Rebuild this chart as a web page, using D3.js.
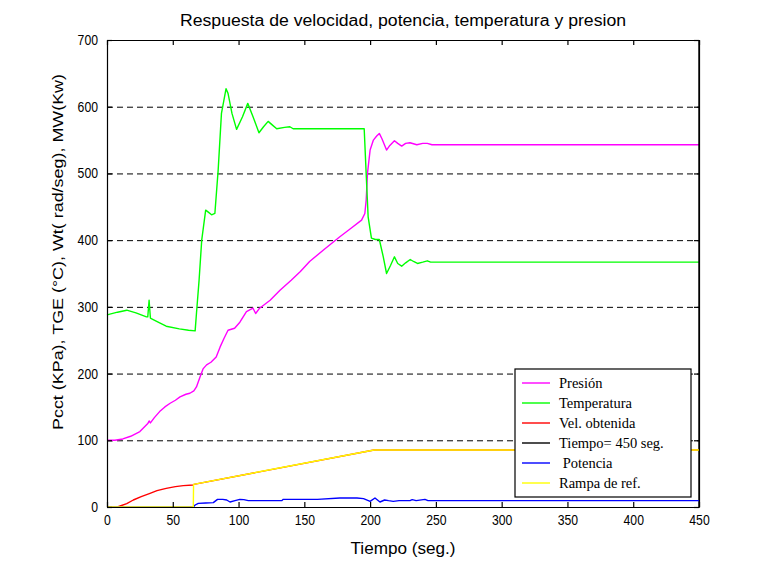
<!DOCTYPE html>
<html>
<head>
<meta charset="utf-8">
<script src="https://cdn.jsdelivr.net/npm/d3@7"></script>
<style>
  html, body { margin: 0; padding: 0; background: #fff; }
  svg { display: block; }
</style>
</head>
<body>
<svg id="chart" width="764" height="568"></svg>
<script>
// Time axis (s) and samples for each trace
const xTicks = [0, 50, 100, 150, 200, 250, 300, 350, 400, 450];
const yTicks = [0, 100, 200, 300, 400, 500, 600, 700];
const gridLevels = [100, 200, 300, 400, 500, 600];

const tPresion = [0, 6, 12, 18, 25, 28, 31, 32, 33, 36, 40, 44, 48, 52, 55.5, 60, 63, 66, 68, 70.7, 73, 75.7, 79, 83, 86, 89, 92, 97, 101, 106, 111, 113, 116, 124, 131.5, 140, 147, 154, 165, 177, 185, 193.5, 196, 197, 198, 200, 202.5, 205, 207, 209, 212.5, 215, 218.5, 221, 224, 227, 230.3, 235.5, 240, 243.5, 247, 450];
const presion  = [100, 100, 102, 106, 113, 119, 125, 129, 126, 134, 143, 150, 155.5, 160, 165, 169, 170.5, 174, 180, 195, 207, 213, 217, 225, 240, 253, 265, 268, 277, 293, 298, 290, 298, 310, 325, 340, 353, 368, 386, 405, 417, 430, 440, 460, 500, 535, 550, 556, 560, 552, 535, 542, 549, 545, 541, 545, 546, 543, 545, 545, 543, 543];

const tTemperatura = [0, 8, 15, 22, 30, 31, 32, 33, 34, 40, 45, 55, 62, 67, 68, 70, 72, 75, 77, 79.5, 82, 84.5, 87, 90.5, 92, 95, 98.5, 103, 107, 111, 115.5, 119, 122.5, 126, 129, 135, 139, 141.5, 150, 170, 195.5, 197, 198.5, 201, 204, 207, 210, 212.5, 215.5, 218.5, 221, 224, 227, 230.5, 233, 236, 240, 243.5, 246, 450];
const temperatura  = [288, 292, 295, 291, 285, 285, 310, 283, 282, 276, 271, 267, 265, 264, 290, 340, 400, 445, 442, 438, 440, 505, 590, 627, 620, 590, 566, 585, 605, 585, 561, 570, 578, 572, 567, 569, 570, 567, 567, 567, 567, 500, 435, 403, 401, 401, 375, 350, 362, 375, 365, 361, 366, 371, 368, 365, 367, 369, 367, 367];

const tVelocidad = [0, 8, 10, 15, 20, 26, 32.7, 38, 45, 52, 58, 65.6, 66, 203, 450];
const velocidad  = [0, 0, 1.5, 5, 10.5, 15.5, 20.5, 24.5, 28, 30.5, 32, 33, 34, 85.5, 85.5];

const tTiempo = [450, 450];
const tiempo  = [0, 700];

const tPotencia = [0, 65.6, 67, 69.4, 75, 80.8, 84, 88, 91, 93.5, 97.3, 101, 104, 107.4, 120, 132.8, 134, 160, 177, 190, 195, 200, 203.7, 207.5, 211, 214, 217.6, 222, 230.3, 232, 235, 241.7, 244, 450];
const potencia  = [0, 0, 3, 5.5, 6, 6.5, 11.5, 11.5, 10.5, 7.5, 9.5, 11.5, 11, 9.5, 9.5, 9.5, 11.5, 11.5, 13.5, 13.5, 12.5, 8.5, 13.5, 7.5, 10.5, 9.5, 8.5, 9.5, 9.5, 11, 9.5, 11.5, 9.5, 9.5];

const tRampa = [0, 65.6, 65.8, 203, 450];
const rampa  = [0, 0, 34, 85.5, 85.5];

const seriesNames = ["Presión", "Temperatura", "Vel. obtenida", "Tiempo= 450 seg.", " Potencia", "Rampa de ref."];
const seriesColors = ["#ff00ff", "#00ff00", "#ff0000", "#000000", "#0000ff", "#ffff00"];

const titleText = "Respuesta de velocidad, potencia, temperatura y presion";
const xLabel = "Tiempo (seg.)";
const yLabel = "Pcct (KPa), TGE (°C), Wt( rad/seg), MW(Kw)";

// Plot area bounds
const plotLeft = 107, plotRight = 699, plotTop = 40, plotBottom = 507;
const svg = d3.select("#chart");
svg.append("rect").attr("width", 764).attr("height", 568).attr("fill", "#fff");

const x = d3.scaleLinear().domain([0, 450]).range([plotLeft, plotRight]);
const y = d3.scaleLinear().domain([0, 700]).range([plotBottom, plotTop]);

const font = "Arial, 'Liberation Sans', sans-serif";

// Dashed horizontal grid
svg.append("g").selectAll("line").data(gridLevels).join("line")
  .attr("x1", plotLeft).attr("x2", plotRight)
  .attr("y1", d => y(d) + 0.5).attr("y2", d => y(d) + 0.5)
  .attr("stroke", "#000").attr("stroke-width", 1)
  .attr("stroke-dasharray", "6,4");

// Curves
const line = d3.line().x(d => x(d[0])).y(d => y(d[1]));
const traces = [
  [tPresion, presion],
  [tTemperatura, temperatura],
  [tVelocidad, velocidad],
  [tTiempo, tiempo],
  [tPotencia, potencia],
  [tRampa, rampa]
];
traces.forEach(([ts, vs], i) => {
  const pts = ts.map((t, k) => [t, vs[k]]);
  svg.append("path").datum(pts)
    .attr("d", line)
    .attr("fill", "none")
    .attr("stroke", seriesColors[i])
    .attr("stroke-width", 1.4)
    .attr("stroke-linejoin", "round");
});

// Axes box with inward ticks on all four sides
const axisB = d3.axisBottom(x).tickValues(xTicks).tickSizeInner(-5).tickSizeOuter(0).tickPadding(8);
const axisT = d3.axisTop(x).tickValues(xTicks).tickSizeInner(-5).tickSizeOuter(0).tickFormat("");
const axisL = d3.axisLeft(y).tickValues(yTicks).tickSizeInner(-5).tickSizeOuter(0).tickPadding(9);
const axisR = d3.axisRight(y).tickValues(yTicks).tickSizeInner(-5).tickSizeOuter(0).tickFormat("");

function styleAxis(g) {
  g.select(".domain").attr("stroke", "#000").attr("stroke-width", 1.2);
  g.selectAll(".tick line").attr("stroke", "#000").attr("stroke-width", 1.2);
  g.selectAll(".tick text").attr("fill", "#000").attr("font-family", font).attr("font-size", 14)
    .attr("textLength", d => String(d).length * 6.8).attr("lengthAdjust", "spacingAndGlyphs");
}
svg.append("g").attr("transform", `translate(0,${plotBottom})`).call(axisB).call(styleAxis);
svg.append("g").attr("transform", `translate(0,${plotTop})`).call(axisT).call(styleAxis);
svg.append("g").attr("transform", `translate(${plotLeft},0)`).call(axisL).call(styleAxis);
svg.append("g").attr("transform", `translate(${plotRight},0)`).call(axisR).call(styleAxis);

// Title and axis labels
svg.append("text").attr("x", 403).attr("y", 26)
  .attr("text-anchor", "middle").attr("font-family", font).attr("font-size", 16)
  .attr("textLength", 446).attr("lengthAdjust", "spacingAndGlyphs")
  .text(titleText);
svg.append("text").attr("x", 403).attr("y", 554)
  .attr("text-anchor", "middle").attr("font-family", font).attr("font-size", 16)
  .attr("textLength", 105).attr("lengthAdjust", "spacingAndGlyphs")
  .text(xLabel);
svg.append("text").attr("transform", "translate(63,252) rotate(-90)")
  .attr("text-anchor", "middle").attr("font-family", font).attr("font-size", 15.5)
  .attr("textLength", 356).attr("lengthAdjust", "spacingAndGlyphs")
  .text(yLabel);

// Legend
const lg = svg.append("g").attr("transform", "translate(515,369)");
lg.append("rect").attr("width", 176).attr("height", 128)
  .attr("fill", "#fff").attr("stroke", "#000").attr("stroke-width", 1.2);
seriesNames.forEach((name, i) => {
  const cy = 14 + i * 20;
  lg.append("line").attr("x1", 7).attr("x2", 35).attr("y1", cy).attr("y2", cy)
    .attr("stroke", seriesColors[i]).attr("stroke-width", 1.4);
  lg.append("text").attr("x", 44).attr("y", cy + 5)
    .attr("font-family", "'Liberation Serif', 'Times New Roman', serif")
    .attr("font-size", 14.5)
    .style("white-space", "pre")
    .text(name);
});
</script>
</body>
</html>
